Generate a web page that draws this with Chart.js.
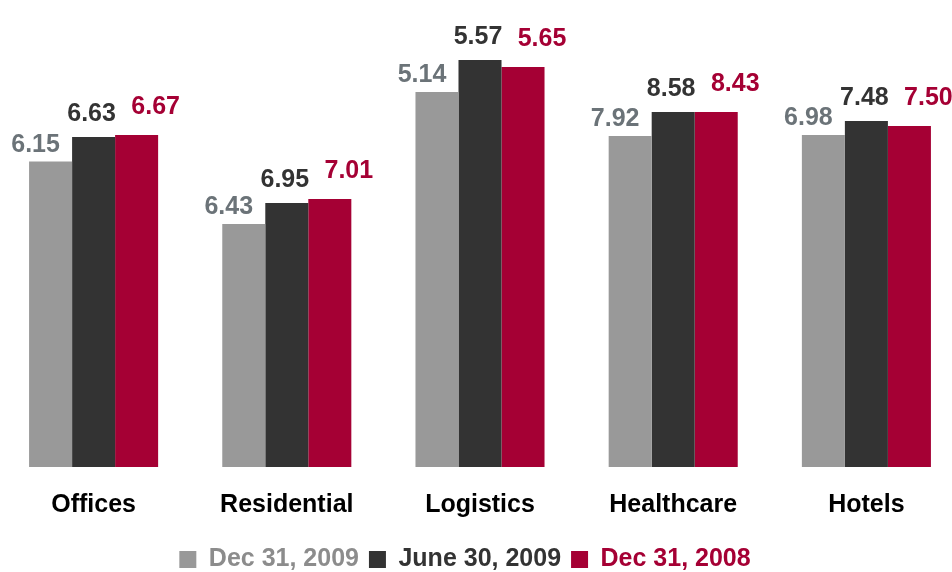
<!DOCTYPE html>
<html>
<head>
<meta charset="utf-8">
<script src="https://cdn.jsdelivr.net/npm/chart.js@4"></script>
<style>
  html, body { margin: 0; padding: 0; background: #ffffff; overflow: hidden; width: 952px; height: 572px; }
  #wrap { position: absolute; left: -3px; top: 0; width: 966px; height: 582px; }
</style>
</head>
<body>
<div id="wrap"><canvas id="c"></canvas></div>
<script>
// Categories
const categories = ["Offices", "Residential", "Logistics", "Healthcare", "Hotels"];
const seriesNames = ["Dec 31, 2009", "June 30, 2009", "Dec 31, 2008"];

// Printed value labels (as shown above each bar)
const labelsDec2009  = ["6.15", "6.43", "5.14", "7.92", "6.98"];
const labelsJun2009  = ["6.63", "6.95", "5.57", "8.58", "7.48"];
const labelsDec2008  = ["6.67", "7.01", "5.65", "8.43", "7.50"];

// Bar lengths as drawn in the picture (the source
// chart does not draw the bars to the printed values' scale)
const barsDec2009 = [6.11, 4.86, 7.50, 6.62, 6.64];
const barsJun2009 = [6.60, 5.28, 8.14, 7.10, 6.92];
const barsDec2008 = [6.64, 5.36, 8.00, 7.10, 6.82];

// Styles
const barColors   = ["#999999", "#333333", "#A50034"];
const valueColors = ["#6B7378", "#333333", "#A50034"];
const legendColors = ["#8C8C8C", "#333333", "#A50034"];
const labelDx  = [-15, -2, 19];
const labelGap = [10, 16, 21];
const LEGEND_SHIFT = -15;
const FONT = "'Liberation Sans', Arial, sans-serif";

const valueLabels = [labelsDec2009, labelsJun2009, labelsDec2008];

const valueLabelPlugin = {
  id: 'valueLabels',
  afterLayout(chart) {
    if (chart.legend) {
      chart.legend.left += LEGEND_SHIFT;
      chart.legend.right += LEGEND_SHIFT;
    }
  },
  afterDatasetsDraw(chart) {
    const ctx = chart.ctx;
    ctx.save();
    ctx.font = "bold 25px " + FONT;
    ctx.textAlign = 'center';
    ctx.textBaseline = 'alphabetic';
    chart.data.datasets.forEach((ds, di) => {
      const meta = chart.getDatasetMeta(di);
      meta.data.forEach((bar, i) => {
        ctx.fillStyle = valueColors[di];
        ctx.fillText(valueLabels[di][i], bar.x + labelDx[di], bar.y - labelGap[di]);
      });
    });
    ctx.restore();
  }
};

new Chart(document.getElementById('c'), {
  type: 'bar',
  data: {
    labels: categories,
    datasets: [
      { label: seriesNames[0], data: barsDec2009, backgroundColor: barColors[0] },
      { label: seriesNames[1], data: barsJun2009, backgroundColor: barColors[1] },
      { label: seriesNames[2], data: barsDec2008, backgroundColor: barColors[2] }
    ]
  },
  options: {
    responsive: true,
    maintainAspectRatio: false,
    animation: false,
    devicePixelRatio: 1,
    layout: { padding: 0 },
    datasets: { bar: { barPercentage: 1.0, categoryPercentage: 0.668, borderWidth: 0 } },
    scales: {
      x: {
        grid: { display: true, color: 'transparent', drawOnChartArea: false, drawTicks: true, tickLength: 6 },
        border: { display: false },
        ticks: { color: '#000000', padding: 17, font: { family: FONT, size: 25, weight: 'bold' } }
      },
      y: {
        display: false,
        min: 0,
        max: 9.34
      }
    },
    plugins: {
      tooltip: { enabled: false },
      legend: {
        position: 'bottom',
        labels: {
          boxWidth: 17,
          boxHeight: 17,
          padding: 10,
          font: { family: FONT, size: 25, weight: 'bold' },
          generateLabels(chart) {
            return chart.data.datasets.map((ds, i) => ({
              text: ds.label,
              fillStyle: barColors[i],
              strokeStyle: barColors[i],
              lineWidth: 0,
              fontColor: legendColors[i],
              hidden: false,
              datasetIndex: i
            }));
          }
        }
      }
    }
  },
  plugins: [valueLabelPlugin]
});
</script>
</body>
</html>
